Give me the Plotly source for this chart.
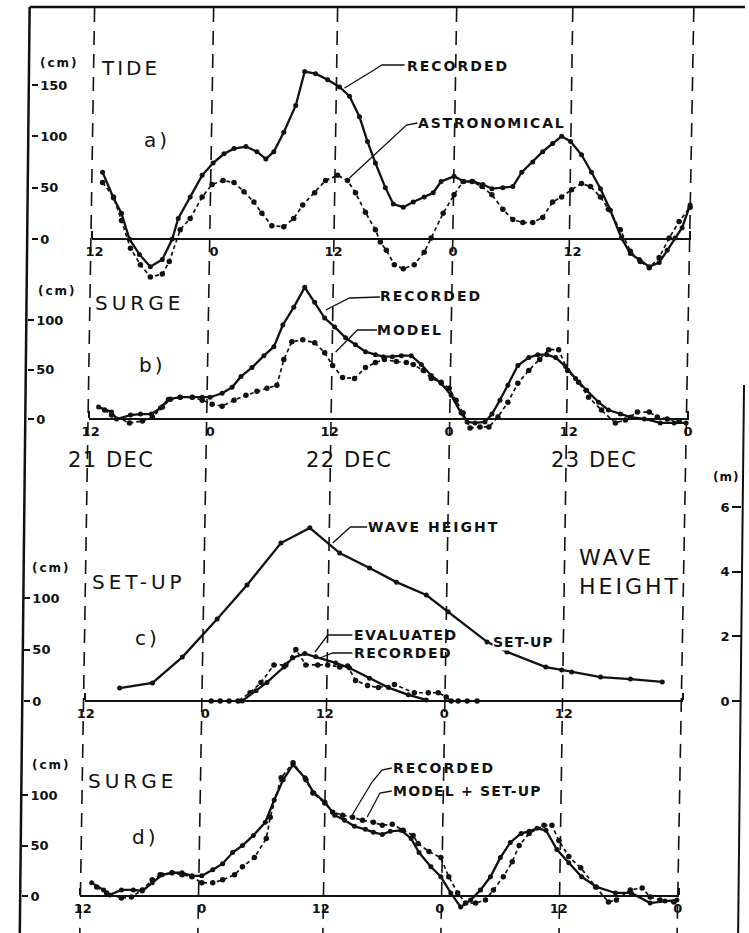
import plotly.graph_objects as go

W, H = 749, 933


def fx(x):
    return x / W


def fy(y):
    return 1 - y / H


# ---------------- DATA (hours from 21 Dec 12:00) ----------------
TICK_HOURS = [0, 12, 24, 36, 48, 60]
TICK_TEXT = ["12", "0", "12", "0", "12", "0"]

# a) TIDE (cm)
TIDE_REC_T = [0.8, 1.9, 2.7, 3.5, 4.5, 5.6, 6.8, 7.8, 8.4, 9.6, 10.8, 11.9, 13.0, 14.0, 15.2, 16.3,
              17.2, 18.0, 19.0, 20.2, 21.1, 22.2, 23.4, 24.6, 25.6, 26.6, 27.4, 28.2, 29.2, 30.0,
              31.0, 32.0, 33.1, 34.0, 34.8, 36.1, 37.1, 38.0, 39.0, 39.9, 41.0, 42.0, 42.9, 44.0,
              45.0, 46.0, 46.9, 47.8, 48.9, 49.9, 50.8, 51.8, 52.9, 53.8, 54.7, 55.7, 56.7, 57.5,
              58.3, 59.0, 59.8]
TIDE_REC_V = [65, 40, 25, 0, -15, -27, -20, 0, 20, 41, 62, 74, 83, 88, 90, 85, 78, 85, 104, 130,
              163, 161, 155, 148, 139, 119, 95, 74, 50, 34, 31, 36, 41, 45, 56, 61, 56, 56, 53, 49,
              50, 51, 65, 75, 85, 93, 100, 95, 82, 65, 49, 28, 1, -14, -20, -27, -23, -11, 1, 11, 33]

TIDE_AST_T = [0.8, 1.9, 2.7, 3.6, 4.6, 5.6, 6.8, 7.5, 8.6, 9.6, 10.8, 11.8, 12.9, 14.0, 15.0, 16.0,
              16.8, 17.8, 19.0, 20.0, 20.9, 22.1, 23.2, 24.4, 25.4, 26.2, 27.2, 28.2, 28.7, 29.3,
              30.1, 31.0, 32.1, 33.1, 33.8, 35.0, 36.1, 37.0, 37.9, 38.9, 39.9, 41.0, 42.0, 43.0,
              44.0, 45.0, 46.0, 46.9, 47.9, 48.9, 49.8, 50.8, 51.6, 52.8, 53.8, 54.8, 55.7, 56.7,
              57.7, 58.7, 59.8]
TIDE_AST_V = [55, 41, 18, -9, -25, -37, -34, -22, 9, 20, 41, 53, 57, 55, 46, 36, 25, 13, 12, 20,
              33, 45, 57, 62, 57, 45, 26, 9, -3, -11, -25, -29, -25, -13, 1, 25, 43, 56, 56, 51,
              43, 29, 19, 16, 16, 21, 36, 41, 48, 54, 51, 41, 29, 9, -12, -22, -28, -18, 1, 17, 31]

# b) SURGE (cm)
SURGE_B_REC_T = [0.8, 2.1, 2.6, 4.0, 5.0, 6.1, 7.0, 7.8, 9.0, 10.2, 11.2, 12.0, 13.2, 14.2, 15.1,
                 16.2, 17.4, 18.4, 19.3, 20.4, 21.5, 22.5, 23.5, 24.5, 25.6, 26.6, 27.6, 28.6, 29.4,
                 30.3, 31.2, 32.2, 33.2, 34.2, 35.2, 36.2, 37.2, 37.8, 38.6, 39.6, 40.3, 41.1, 41.9,
                 42.9, 44.0, 44.9, 45.8, 46.7, 47.7, 48.7, 49.8, 51.0, 52.0, 53.2, 54.2, 55.6, 57.2,
                 58.6, 59.8]
SURGE_B_REC_V = [12, 7, 0, 4, 5, 5, 11, 20, 22, 22, 22, 22, 26, 32, 43, 52, 64, 73, 95, 113, 133,
                 118, 102, 93, 82, 75, 68, 65, 63, 63, 64, 64, 55, 44, 36, 24, 6, -3, -4, -3, 5, 19,
                 34, 54, 62, 65, 65, 62, 53, 41, 29, 17, 9, 5, 2, 0, -4, -4, -4]

SURGE_B_MOD_T = [1.4, 2.1, 3.9, 5.2, 6.2, 7.2, 8.0, 9.0, 10.2, 11.2, 12.2, 13.2, 14.4, 15.6, 16.7,
                 17.7, 18.7, 19.4, 20.2, 21.3, 22.5, 23.5, 24.3, 25.3, 26.5, 27.6, 28.6, 29.5, 30.7,
                 31.7, 32.4, 33.4, 34.2, 35.2, 36.0, 36.7, 37.4, 38.1, 39.1, 40.0, 40.9, 41.9, 42.9,
                 44.0, 45.1, 46.0, 47.0, 47.9, 49.0, 50.0, 51.3, 52.7, 53.7, 54.9, 56.1, 56.9, 57.9,
                 59.1]
SURGE_B_MOD_V = [9, 4, -4, -2, 2, 12, 20, 22, 22, 19, 15, 13, 19, 24, 28, 31, 34, 60, 78, 80, 77,
                 67, 54, 42, 41, 52, 57, 60, 58, 57, 55, 49, 41, 37, 31, 19, 6, -9, -8, -8, 2, 17,
                 36, 49, 60, 70, 70, 49, 37, 22, 9, -4, -1, 7, 7, 2, 0, -2]

# c) SET-UP (cm) and WAVE HEIGHT (m)
WAVE_T = [3.4, 6.7, 9.7, 13.2, 16.2, 19.6, 22.5, 25.5, 28.5, 31.2, 34.2, 36.4, 40.3, 42.3, 46.2,
          47.8, 48.8, 51.7, 54.7, 57.9]
WAVE_V = [0.40, 0.56, 1.36, 2.54, 3.59, 4.89, 5.36, 4.58, 4.12, 3.68, 3.28, 2.76, 1.83, 1.52, 1.05,
          0.96, 0.90, 0.74, 0.68, 0.59]

SETUP_EVAL_T = [15.7, 17.1, 18.2, 19.9, 20.8, 22.0, 23.1, 25.1, 26.5, 28.5, 30.4, 32.4, 34.2]
SETUP_EVAL_V = [0, 10, 18, 33, 42, 46, 43, 37, 32, 22, 13, 6, 1]

SETUP_REC_T = [12.6, 13.5, 14.4, 15.3, 16.5, 17.6, 18.9, 20.1, 21.1, 22.1, 23.3, 24.3, 25.5, 26.3,
               27.1, 28.3, 29.4, 31.0, 33.0, 34.4, 35.4, 36.2, 36.7, 37.4, 38.3, 39.3]
SETUP_REC_V = [0, 0, 0, 0, 8, 18, 35, 35, 50, 35, 35, 35, 33, 34, 20, 15, 13, 16, 8, 8, 8, 4, 0,
               0, 0, 0]

# d) SURGE (cm)
SURGE_D_REC_T = [0.9, 2.1, 2.7, 3.9, 5.1, 6.0, 7.0, 8.0, 9.0, 10.0, 11.0, 12.0, 13.1, 14.1, 15.1,
                 16.1, 17.2, 18.4, 19.3, 20.2, 21.2, 22.4, 23.3, 24.4, 25.4, 26.4, 27.4, 28.5, 29.3,
                 30.2, 31.0, 32.1, 33.1, 33.9, 35.1, 36.1, 37.1, 38.1, 39.1, 40.1, 41.1, 42.1, 43.1,
                 44.2, 45.0, 45.8, 46.7, 47.8, 49.0, 50.3, 51.8, 53.7, 55.3, 57.2, 58.7, 59.9]
SURGE_D_REC_V = [13, 6, 1, 6, 6, 5, 13, 21, 23, 23, 20, 20, 26, 32, 43, 50, 60, 73, 95, 115, 130,
                 117, 102, 93, 80, 75, 69, 66, 63, 61, 64, 65, 57, 43, 29, 19, 3, -11, -4, 6, 19,
                 38, 53, 62, 64, 67, 65, 46, 33, 19, 9, 3, 3, -7, -5, -4]

SURGE_D_MOD_T = [1.4, 2.4, 3.9, 4.9, 6.0, 7.0, 7.8, 9.0, 10.0, 11.0, 12.0, 13.1, 14.1, 15.3, 16.1,
                 17.3, 18.5, 18.9, 20.0, 21.2, 22.5, 23.2, 24.4, 25.2, 26.2, 27.2, 28.2, 29.3, 30.2,
                 31.2, 32.3, 33.3, 33.8, 34.9, 36.1, 36.9, 37.8, 38.6, 39.6, 40.6, 41.4, 42.4, 43.3,
                 44.0, 45.0, 46.5, 47.3, 48.0, 49.0, 50.2, 51.7, 53.0, 53.8, 55.2, 56.4, 57.2, 58.2,
                 59.6]
SURGE_D_MOD_V = [9, 3, -2, -1, 6, 16, 21, 23, 21, 19, 13, 13, 16, 21, 29, 38, 57, 78, 117, 132, 115,
                 102, 92, 83, 80, 78, 75, 73, 70, 71, 65, 60, 52, 44, 38, 19, 3, -7, -7, -4, 6, 19,
                 34, 50, 62, 70, 70, 55, 39, 28, 9, -6, -4, 6, 8, -1, -4, -6]

# ---------------- LAYOUT GEOMETRY (pixels) ----------------
PANELS = [
    dict(x0=88, kx=10.12, xl=85, xr=694, y0=239, ky=1.027, top=55, bot=282, ypos=23,
         yticks=[0, 50, 100, 150]),
    dict(x0=84, kx=10.12, xl=82, xr=692, y0=419, ky=0.99, top=284, bot=432, ypos=19,
         yticks=[0, 50, 100]),
    dict(x0=79, kx=10.12, xl=78, xr=686, y0=701, ky=1.03, top=480, bot=712, ypos=15,
         yticks=[0, 50, 100]),
    dict(x0=76, kx=10.08, xl=73, xr=682, y0=896, ky=1.01, top=740, bot=912, ypos=13,
         yticks=[0, 50, 100]),
]
WAVE_KY = 32.3  # px per metre on right axis of panel c

FONT = "DejaVu Sans"
BLACK = "#111111"

fig = go.Figure()


def solid(t, v, xa, ya):
    fig.add_trace(go.Scatter(x=t, y=v, xaxis=xa, yaxis=ya, mode="lines+markers",
                             line=dict(color=BLACK, width=2.3),
                             marker=dict(color=BLACK, size=5), cliponaxis=False,
                             hoverinfo="skip"))


def dashed(t, v, xa, ya):
    fig.add_trace(go.Scatter(x=t, y=v, xaxis=xa, yaxis=ya, mode="lines+markers",
                             line=dict(color=BLACK, width=1.7, dash="4px,3px"),
                             marker=dict(color=BLACK, size=5.5), cliponaxis=False,
                             hoverinfo="skip"))


solid(TIDE_REC_T, TIDE_REC_V, "x", "y")
dashed(TIDE_AST_T, TIDE_AST_V, "x", "y")
solid(SURGE_B_REC_T, SURGE_B_REC_V, "x2", "y2")
dashed(SURGE_B_MOD_T, SURGE_B_MOD_V, "x2", "y2")
solid(WAVE_T, WAVE_V, "x3", "y5")
solid(SETUP_EVAL_T, SETUP_EVAL_V, "x3", "y3")
dashed(SETUP_REC_T, SETUP_REC_V, "x3", "y3")
solid(SURGE_D_REC_T, SURGE_D_REC_V, "x4", "y4")
dashed(SURGE_D_MOD_T, SURGE_D_MOD_V, "x4", "y4")

layout = dict(
    width=W, height=H, margin=dict(l=0, r=0, t=0, b=0),
    paper_bgcolor="white", plot_bgcolor="rgba(0,0,0,0)",
    showlegend=False, font=dict(family=FONT, color=BLACK),
)

TICKFONT = dict(family=FONT, size=13, weight="bold", color=BLACK)

for i, p in enumerate(PANELS):
    sfx = "" if i == 0 else str(i + 1)
    xr = [(p["xl"] - p["x0"]) / p["kx"], (p["xr"] - p["x0"]) / p["kx"]]
    yr = [(p["y0"] - p["bot"]) / p["ky"], (p["y0"] - p["top"]) / p["ky"]]
    layout["xaxis" + sfx] = dict(
        domain=[fx(p["xl"]), fx(p["xr"])], range=xr, anchor="free", position=fy(p["y0"]),
        showline=True, linecolor=BLACK, linewidth=2, showgrid=False, zeroline=False,
        tickmode="array", tickvals=TICK_HOURS, ticktext=TICK_TEXT, ticks="",
        tickfont=TICKFONT, fixedrange=True,
        minor=dict(tickmode="array", tickvals=[xr[0] + 0.05, xr[1] - 0.05], ticks="inside",
                   ticklen=7, tickwidth=2, tickcolor=BLACK))
    layout["yaxis" + sfx] = dict(
        domain=[fy(p["bot"]), fy(p["top"])], range=yr, anchor="free", position=fx(p["ypos"]),
        side="right", showline=False, showgrid=False, zeroline=False,
        tickmode="array", tickvals=p["yticks"], ticks="outside", ticklen=6, tickwidth=2,
        tickcolor=BLACK, tickfont=TICKFONT, fixedrange=True)

pc = PANELS[2]
layout["yaxis5"] = dict(
    overlaying="y3", range=[(pc["y0"] - pc["bot"]) / WAVE_KY, (pc["y0"] - pc["top"]) / WAVE_KY],
    anchor="free", position=fx(745), side="left", showline=False, showgrid=False,
    zeroline=False, tickmode="array", tickvals=[0, 2, 4, 6], ticks="outside", ticklen=9,
    tickwidth=2, tickcolor=BLACK, tickfont=TICKFONT, fixedrange=True)

# ---------------- SHAPES: frame, dashed day lines, leaders ----------------
shapes = []


def seg(x0, y0, x1, y1, width=2, dash=None):
    d = dict(type="line", xref="paper", yref="paper", x0=fx(x0), y0=fy(y0), x1=fx(x1), y1=fy(y1),
             line=dict(color=BLACK, width=width))
    if dash:
        d["line"]["dash"] = dash
    shapes.append(d)


def poly(pts, width=1.3):
    path = "M " + " L ".join(f"{fx(x):.5f},{fy(y):.5f}" for x, y in pts)
    shapes.append(dict(type="path", xref="paper", yref="paper", path=path,
                       line=dict(color=BLACK, width=width)))


# frame
seg(22, 7, 749, 7, 2.5)
seg(22, 7, 12, 933, 2.5)
seg(748, 385, 742, 933, 2)

# dashed vertical lines (12-hour marks)
TOP_X = [88, 209, 335, 456, 574, 697]
BOT_X = [73, 193, 320, 440, 560, 680]
for a, b in zip(TOP_X, BOT_X):
    seg(a, 8, b, 933, 1.6, dash="14px,9px")

# leader lines
poly([(342, 88), (372, 70), (380, 65), (403, 65)])
poly([(347, 178), (405, 125), (416, 123)])
poly([(323, 310), (347, 298), (378, 297)])
poly([(333, 352), (355, 330), (375, 330)])
poly([(330, 543), (348, 527), (365, 527)])
poly([(312, 652), (325, 635), (350, 635)])
poly([(317, 658), (330, 653), (350, 653)])
poly([(348, 818), (370, 782), (380, 770), (390, 768)])
poly([(365, 817), (370, 808), (378, 793), (390, 791)])

layout["shapes"] = shapes

# ---------------- TEXT ----------------
anns = []


def label(text, x, y, size, bold=False, xanchor="left", bg=None, spacing=0):
    shown = text
    if spacing:
        shown = f"<span style='letter-spacing:{spacing}px'>{text}</span>"
    a = dict(text=shown, x=fx(x), y=fy(y), xref="paper", yref="paper", showarrow=False,
             xanchor=xanchor, yanchor="middle", align="left", borderpad=0,
             font=dict(family=FONT, size=size, color=BLACK, weight="bold" if bold else "normal"))
    if bg:
        a["bgcolor"] = bg
    anns.append(a)


SMALL = 14
SP = 2.0
# panel a
label("(cm)", 31, 63, 12, True, spacing=2)
label("TIDE", 94, 68, 20, spacing=3)
label("a)", 137, 140, 20, spacing=3)
label("RECORDED", 404, 66, SMALL, True, spacing=SP)
label("ASTRONOMICAL", 416, 123, SMALL, True, spacing=1.8)
# panel b
label("(cm)", 29, 291, 12, True, spacing=2)
label("SURGE", 87, 303, 20, spacing=4)
label("b)", 132, 365, 20, spacing=3)
label("RECORDED", 377, 296, SMALL, True, spacing=SP)
label("MODEL", 374, 330, SMALL, True, spacing=SP)
label("21 DEC", 105, 460, 21, xanchor="center", spacing=1.5)
label("22 DEC", 347, 460, 21, xanchor="center", spacing=1.5)
label("23 DEC", 596, 460, 21, xanchor="center", spacing=1.5)
# panel c
label("(cm)", 23, 568, 12, True, spacing=2)
label("SET-UP", 84, 582, 20, spacing=4)
label("c)", 128, 638, 20, spacing=3)
label("WAVE HEIGHT", 365, 527, SMALL, True, spacing=SP)
label("WAVE<br>HEIGHT", 579, 572, 22, spacing=3)
label("(m)", 730, 477, 12, True, xanchor="center", spacing=1)
label("EVALUATED", 351, 635, SMALL, True, spacing=1.5)
label("RECORDED", 351, 653, SMALL, True, spacing=1.5)
label("SET-UP", 492, 642, SMALL, True, bg="white", spacing=1)
# panel d
label("(cm)", 23, 765, 12, True, spacing=2)
label("SURGE", 80, 781, 20, spacing=4)
label("d)", 125, 837, 20, spacing=3)
label("RECORDED", 390, 768, SMALL, True, spacing=SP)
label("MODEL + SET-UP", 390, 791, SMALL, True, spacing=1.2)

layout["annotations"] = anns

fig.update_layout(**layout)
fig.write_html("out.html")
